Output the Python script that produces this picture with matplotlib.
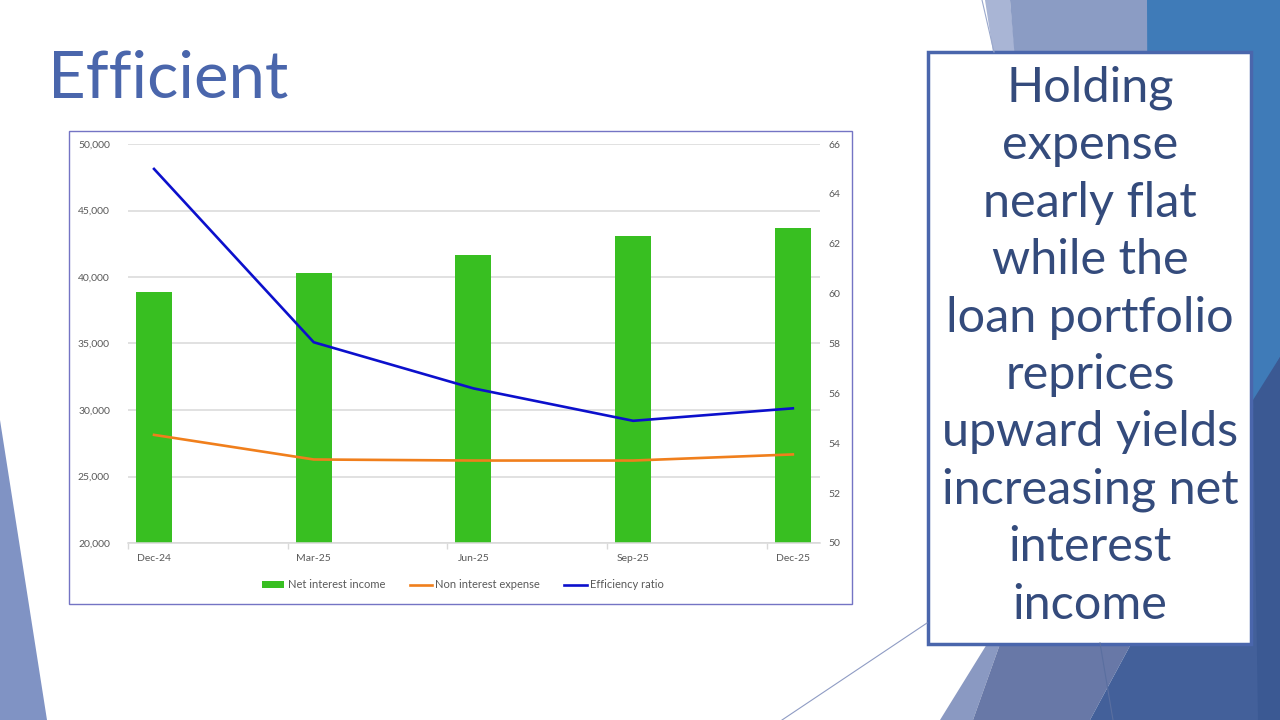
import matplotlib
matplotlib.use("Agg")
import matplotlib.pyplot as plt
from matplotlib.patches import Polygon, Rectangle

# data
quarters = ["Dec-24", "Mar-25", "Jun-25", "Sep-25", "Dec-25"]
net_interest_income = [38880, 40300, 41660, 43090, 43670]
non_interest_expense = [28130, 26280, 26200, 26200, 26660]
efficiency_ratio = [65.0, 58.05, 56.2, 54.9, 55.4]

left_ticks = [20000, 25000, 30000, 35000, 40000, 45000, 50000]
right_ticks = [50, 52, 54, 56, 58, 60, 62, 64, 66]

message = ["Holding", "expense", "nearly flat", "while the", "loan portfolio",
           "reprices", "upward yields", "increasing net", "interest", "income"]

W, H = 1280, 720
GREY = "#595959"


def px_axes(fig, x, y, w, h, **kw):
    # axes placed with pixel coordinates, y from the top
    return fig.add_axes([x / W, 1 - (y + h) / H, w / W, h / H], **kw)


fig = plt.figure(figsize=(12.8, 7.2), dpi=100)
plt.rcParams['font.family'] = ['Lato', 'DejaVu Sans']

# slide background and decorative shapes
bg = px_axes(fig, 0, 0, W, H)
bg.set_xlim(0, W)
bg.set_ylim(H, 0)
bg.axis("off")

shapes = [
    ([(0, 420), (47, 720), (0, 720)], "#8093c4"),
    ([(985, 0), (1010, 0), (1015, 52), (993, 52)], "#a9b5d5"),
    ([(1010, 0), (1147, 0), (1160, 60), (1015, 60)], "#8b9cc4"),
    ([(1147, 0), (1280, 0), (1280, 720), (1150, 720)], "#3f7bb8"),
    ([(987, 644), (1000, 644), (973, 720), (940, 720)], "#8a99c2"),
    ([(1000, 644), (1131, 644), (1090, 720), (973, 720)], "#6878a7"),
    ([(1280, 357), (1280, 720), (1090, 720), (1131, 644)], "#43609a"),
    ([(1253, 400), (1280, 357), (1280, 720), (1258, 720)], "#3b5993"),
]
for pts, col in shapes:
    bg.add_patch(Polygon(pts, closed=True, facecolor=col, edgecolor="none"))

bg.plot([982, 994], [0, 52], color="#9aa8cc", lw=0.8)
bg.plot([782, 927], [720, 623], color="#8f9cc4", lw=0.8)
bg.plot([1100, 1113], [643, 720], color="#5a6fa0", lw=0.8)

# title
bg.text(48, 98, "Efficient", fontsize=47, color="#4a66ac", ha="left",
        va="baseline")

# chart frame
bg.add_patch(Rectangle((69, 131), 783, 473, facecolor="white",
                       edgecolor="#7474c4", lw=1))

# text box on the right
bg.add_patch(Rectangle((928, 52), 323, 592, facecolor="white",
                       edgecolor="#4a66ac", lw=2.5))
top, pitch = 88, 57.4
for i, line in enumerate(message):
    bg.text(1090, top + i * pitch, line, fontsize=35, color="#344b7c",
            ha="center", va="center")

# the chart itself
ax = px_axes(fig, 128, 144, 692, 399)
ax.set_facecolor("none")
x = list(range(len(quarters)))

bars = ax.bar(x, net_interest_income, width=0.225, color="#38bf21",
              zorder=2, label="Net interest income")
nie, = ax.plot(x, non_interest_expense, color="#f07f1c", lw=1.9, zorder=3,
               label="Non interest expense")
ax.set_ylim(20000, 50000)
ax.set_yticks(left_ticks)
ax.set_yticklabels([f"{v:,}" for v in left_ticks])
ax.set_xlim(-0.163, 4.17)
ax.set_xticks(x)
ax.set_xticklabels(quarters)
ax.set_xticks([i - 0.163 for i in x], minor=True)
ax.tick_params(axis="x", which="major", length=0, pad=8, labelsize=7.5,
               labelcolor=GREY)
ax.tick_params(axis="x", which="minor", length=4, color="#d9d9d9", width=1)
ax.tick_params(axis="y", length=0, pad=13, labelsize=7.5, labelcolor=GREY)
ax.grid(axis="y", color="#d9d9d9", lw=1.1, zorder=0)
for s in ["top", "left", "right"]:
    ax.spines[s].set_visible(False)
ax.spines["bottom"].set_color("#d9d9d9")
ax.spines["bottom"].set_linewidth(1.1)

ax2 = ax.twinx()
eff, = ax2.plot(x, efficiency_ratio, color="#0c10cc", lw=1.9, zorder=4,
                label="Efficiency ratio")
ax2.set_ylim(50, 66)
ax2.set_yticks(right_ticks)
ax2.tick_params(axis="y", length=0, pad=6, labelsize=7.5, labelcolor=GREY)
for s in ax2.spines.values():
    s.set_visible(False)

fig.legend([bars, nie, eff],
           ["Net interest income", "Non interest expense", "Efficiency ratio"],
           loc="center", bbox_to_anchor=(463 / W, 1 - 585 / H), ncol=3,
           frameon=False, fontsize=8, labelcolor=GREY, handlelength=2.0,
           handletextpad=0.3, columnspacing=2.2, handleheight=0.6)

fig.savefig("out.png", dpi=100)
